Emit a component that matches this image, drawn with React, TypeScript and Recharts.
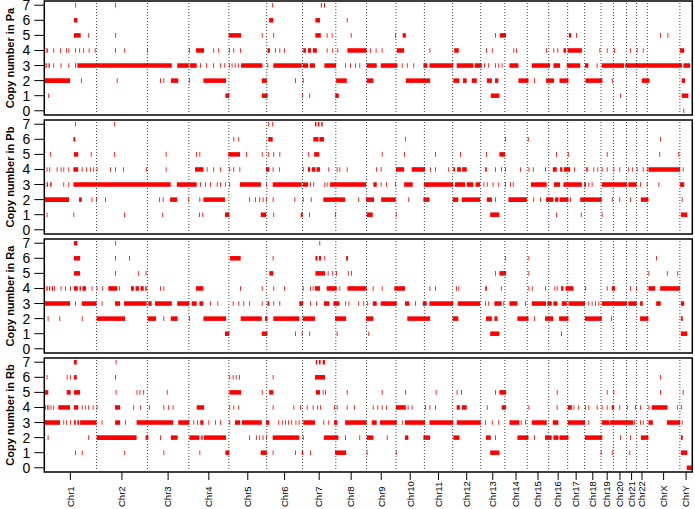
import { ComposedChart, Label, ReferenceArea, ReferenceLine, XAxis, YAxis } from 'recharts';

// copy-number segments per sample: [copy number, start Mb, end Mb?] on a cumulative genome axis
type Seg = [number, number, number?];

const CHROMS = ['Chr1', 'Chr2', 'Chr3', 'Chr4', 'Chr5', 'Chr6', 'Chr7', 'Chr8', 'Chr9', 'Chr10', 'Chr11', 'Chr12',
  'Chr13', 'Chr14', 'Chr15', 'Chr16', 'Chr17', 'Chr18', 'Chr19', 'Chr20', 'Chr21', 'Chr22', 'ChrX', 'ChrY'];
const CHROM_MB = [249.25, 243.2, 198.0, 191.15, 180.9, 171.1, 159.1, 146.4, 141.2, 135.5, 135.0, 133.85,
  115.2, 107.35, 102.5, 90.35, 81.2, 78.1, 59.1, 63.0, 48.1, 51.3, 155.3, 59.4];
const COPY_TICKS = [0, 1, 2, 3, 4, 5, 6, 7];

const PA: Seg[] = [
  [7, 148], [7, 339], [7, 1089], [7, 1321, 1326], [7, 1336, 1341],
  [6, 142, 158], [6, 1074, 1094], [6, 1295, 1317], [6, 1445],
  [5, 142, 174], [5, 210], [5, 339], [5, 881, 940], [5, 1039], [5, 1094], [5, 1295, 1321], [5, 1349], [5, 1373],
  [5, 1464], [5, 1676], [5, 1712, 1727], [5, 2153], [5, 2177, 2206], [5, 2506, 2517], [5, 2540], [5, 2942], [5, 2977],
  [4, 7], [4, 14], [4, 43], [4, 75], [4, 104], [4, 115], [4, 147], [4, 167], [4, 186], [4, 212], [4, 241], [4, 338],
  [4, 382], [4, 491], [4, 691], [4, 725, 763], [4, 807], [4, 831], [4, 882], [4, 903], [4, 935], [4, 1066, 1078],
  [4, 1102], [4, 1123], [4, 1145], [4, 1237, 1250], [4, 1260, 1274], [4, 1283, 1302], [4, 1349], [4, 1376], [4, 1400],
  [4, 1448, 1540], [4, 1556], [4, 1583], [4, 1612], [4, 1684, 1719], [4, 1840], [4, 1958, 1980], [4, 2110], [4, 2138],
  [4, 2241], [4, 2254], [4, 2397], [4, 2432], [4, 2451], [4, 2480, 2492], [4, 2500, 2568], [4, 2652], [4, 2687],
  [4, 2722], [4, 2798], [4, 2830], [4, 2859], [4, 3037, 3057],
  [3, 0, 6], [3, 10, 14], [3, 20, 26], [3, 43], [3, 78], [3, 115], [3, 147], [3, 158, 609], [3, 635, 690], [3, 695, 728],
  [3, 744], [3, 773], [3, 806], [3, 840], [3, 860], [3, 882], [3, 895], [3, 910], [3, 925], [3, 940, 1042], [3, 1066],
  [3, 1094, 1230], [3, 1235, 1260], [3, 1268, 1293], [3, 1338, 1394], [3, 1437], [3, 1461], [3, 1485], [3, 1505],
  [3, 1540, 1588], [3, 1607, 1687], [3, 1708], [3, 1732], [3, 1763], [3, 1811, 1830], [3, 1840, 1954], [3, 1970, 2050],
  [3, 2056, 2090], [3, 2101], [3, 2121], [3, 2153], [3, 2169], [3, 2185], [3, 2222, 2265], [3, 2329, 2416],
  [3, 2432, 2464], [3, 2496, 2560], [3, 2583, 2599], [3, 2639], [3, 2663, 2770], [3, 2775, 3046], [3, 3053, 3085],
  [2, 0, 123], [2, 175], [2, 346], [2, 553], [2, 569], [2, 605, 640], [2, 691], [2, 760, 868], [2, 1039, 1063],
  [2, 1198], [2, 1235], [2, 1394, 1445], [2, 1540, 1572], [2, 1727, 1843], [2, 1954, 1983], [2, 2000, 2018],
  [2, 2042, 2066], [2, 2114, 2138], [2, 2153, 2169], [2, 2265, 2313], [2, 2340], [2, 2397, 2435], [2, 2461, 2504],
  [2, 2585, 2666], [2, 2711], [2, 2854, 2891], [2, 3045, 3061],
  [1, 19], [1, 865, 884], [1, 1039, 1067], [1, 1231], [1, 1266], [1, 1390, 1407], [1, 2133, 2174], [1, 2751],
  [1, 3045, 3077],
  [0, 3053],
];

const PB: Seg[] = [
  [7, 147], [7, 333], [7, 1070], [7, 1089], [7, 1293, 1300], [7, 1307, 1314], [7, 1323, 1330],
  [6, 139, 148], [6, 903], [6, 927], [6, 1070, 1091], [6, 1285, 1310], [6, 1314, 1336], [6, 1723], [6, 2201],
  [6, 2310], [6, 2942],
  [5, 27], [5, 142, 162], [5, 222], [5, 333], [5, 580], [5, 725], [5, 741], [5, 879, 935], [5, 964], [5, 1039],
  [5, 1070], [5, 1094], [5, 1123], [5, 1261], [5, 1289, 1314], [5, 1612], [5, 1719], [5, 1867], [5, 1986], [5, 2110],
  [5, 2174, 2201], [5, 2445], [5, 2501], [5, 2687], [5, 2938], [5, 3029],
  [4, 11], [4, 24], [4, 59], [4, 78], [4, 91], [4, 115], [4, 139, 162], [4, 179], [4, 199], [4, 218], [4, 234],
  [4, 250], [4, 314], [4, 338], [4, 377], [4, 486], [4, 580], [4, 720, 760], [4, 776], [4, 807], [4, 840], [4, 884],
  [4, 903], [4, 932], [4, 1059, 1075], [4, 1091], [4, 1121], [4, 1235], [4, 1259, 1270], [4, 1278, 1295],
  [4, 1300, 1317], [4, 1357], [4, 1397], [4, 1410], [4, 1445], [4, 1585], [4, 1607], [4, 1680, 1719], [4, 1755, 1819],
  [4, 1843], [4, 1867], [4, 1930], [4, 1954, 1962], [4, 1972, 1990], [4, 1996, 2018], [4, 2106, 2114], [4, 2153],
  [4, 2182], [4, 2201], [4, 2273], [4, 2313], [4, 2334], [4, 2392], [4, 2429, 2448], [4, 2464, 2475], [4, 2482, 2512],
  [4, 2531], [4, 2588], [4, 2594], [4, 2623], [4, 2642], [4, 2663], [4, 2687], [4, 2719], [4, 2747], [4, 2790],
  [4, 2807], [4, 2830], [4, 2859], [4, 2878], [4, 2886, 3037], [4, 3050],
  [3, 0, 5], [3, 12, 18], [3, 28, 35], [3, 91], [3, 115], [3, 139, 604], [3, 633, 728], [3, 744], [3, 768], [3, 792],
  [3, 824], [3, 840], [3, 863], [3, 884], [3, 935, 1035], [3, 1059], [3, 1091, 1230], [3, 1235, 1260], [3, 1270],
  [3, 1285], [3, 1338], [3, 1349], [3, 1365, 1537], [3, 1572, 1588], [3, 1607], [3, 1633], [3, 1676], [3, 1719, 1760],
  [3, 1814, 1954], [3, 1962, 2010], [3, 2018, 2050], [3, 2060, 2082], [3, 2098], [3, 2114], [3, 2142], [3, 2169],
  [3, 2201], [3, 2225], [3, 2238], [3, 2325, 2400], [3, 2435, 2464], [3, 2480, 2568], [3, 2579, 2588], [3, 2599],
  [3, 2615], [3, 2663, 2783], [3, 2790, 2830], [3, 2846], [3, 2878], [3, 2934], [3, 3037, 3057],
  [2, 0, 118], [2, 166, 179], [2, 226], [2, 247], [2, 290], [2, 549], [2, 566], [2, 601, 635], [2, 688], [2, 741],
  [2, 760, 863], [2, 979], [2, 1007], [2, 1027], [2, 1043], [2, 1059], [2, 1091], [2, 1195], [2, 1235], [2, 1273],
  [2, 1333, 1437], [2, 1500], [2, 1537, 1575], [2, 1609, 1679], [2, 1739], [2, 1811, 1840], [2, 1951, 1978],
  [2, 1994, 2082], [2, 2114, 2138], [2, 2153], [2, 2217, 2305], [2, 2336], [2, 2368], [2, 2397, 2432], [2, 2440, 2456],
  [2, 2461, 2504], [2, 2512], [2, 2560, 2663], [2, 2711], [2, 2747], [2, 2798], [2, 2850, 2886], [2, 3045],
  [1, 11], [1, 139], [1, 381], [1, 564], [1, 739], [1, 755], [1, 863, 884], [1, 1034, 1059], [1, 1094], [1, 1225, 1235],
  [1, 1265], [1, 1389], [1, 1540, 1569], [1, 1679], [1, 2130, 2174], [1, 2445], [1, 2563], [1, 2663], [1, 3041, 3072],
];

const RA: Seg[] = [
  [7, 142, 158], [7, 339], [7, 1314],
  [6, 142, 171], [6, 338], [6, 405], [6, 887, 938], [6, 1091], [6, 1295, 1305], [6, 1312, 1322], [6, 1338],
  [6, 1442, 1451], [6, 2201], [6, 2313], [6, 2923],
  [5, 0, 3], [5, 142, 171], [5, 338], [5, 449], [5, 484], [5, 1075, 1094], [5, 1295, 1341], [5, 1354], [5, 1376],
  [5, 1394], [5, 1450], [5, 1465], [5, 2153], [5, 2174, 2206], [5, 2313], [5, 2886], [5, 2974], [5, 3024],
  [4, 0, 4], [4, 10, 16], [4, 22, 28], [4, 36, 42], [4, 47, 51], [4, 78], [4, 99], [4, 123], [4, 142, 160],
  [4, 168, 175], [4, 182, 199], [4, 226], [4, 250], [4, 277], [4, 306, 349], [4, 358], [4, 414, 428], [4, 436, 452],
  [4, 460, 475], [4, 482, 489], [4, 553], [4, 569], [4, 725, 760], [4, 935], [4, 1039], [4, 1094], [4, 1145],
  [4, 1235], [4, 1270], [4, 1282], [4, 1293, 1317], [4, 1349, 1397], [4, 1410], [4, 1448, 1540], [4, 1569], [4, 1612],
  [4, 1672, 1723], [4, 1840], [4, 1867], [4, 1967], [4, 1978], [4, 2106, 2114], [4, 2181], [4, 2313], [4, 2329],
  [4, 2392], [4, 2437], [4, 2448], [4, 2469, 2480], [4, 2490, 2528], [4, 2583], [4, 2687], [4, 2711, 2727], [4, 2798],
  [4, 2827], [4, 2886, 2918], [4, 2942, 3037],
  [3, 0, 123], [3, 147], [3, 179, 250], [3, 274], [3, 338, 362], [3, 381, 489], [3, 497, 513], [3, 529, 609],
  [3, 635, 693], [3, 704, 728], [3, 741, 760], [3, 792], [3, 827], [3, 900], [3, 927], [3, 951], [3, 979], [3, 1039],
  [3, 1066, 1075], [3, 1094], [3, 1123], [3, 1218, 1237], [3, 1270], [3, 1298], [3, 1336, 1362], [3, 1381, 1410],
  [3, 1437], [3, 1453], [3, 1500], [3, 1524], [3, 1543], [3, 1569, 1588], [3, 1607, 1684], [3, 1723, 1744], [3, 1771],
  [3, 1808, 1827], [3, 1840, 1954], [3, 1975, 2082], [3, 2106], [3, 2121], [3, 2150, 2185], [3, 2193], [3, 2222, 2260],
  [3, 2297], [3, 2329, 2397], [3, 2403, 2424], [3, 2432, 2451], [3, 2472, 2496], [3, 2504, 2583], [3, 2599], [3, 2615],
  [3, 2631], [3, 2647], [3, 2663, 2783], [3, 2790, 2830], [3, 2846, 2859], [3, 2923, 2945], [3, 3041, 3057],
  [2, 16], [2, 72], [2, 179], [2, 250, 386], [2, 494, 534], [2, 569], [2, 604, 637], [2, 691], [2, 760, 868],
  [2, 938, 1039], [2, 1054, 1066], [2, 1094, 1218], [2, 1235, 1293], [2, 1389, 1442], [2, 1537, 1572], [2, 1734, 1843],
  [2, 1951, 1978], [2, 2110, 2138], [2, 2150, 2165], [2, 2260, 2313], [2, 2340], [2, 2392, 2432], [2, 2459, 2504],
  [2, 2583, 2663], [2, 2708], [2, 2846, 2886], [2, 3041, 3050],
  [1, 863, 884], [1, 1039, 1066], [1, 1198], [1, 1230], [1, 1266], [1, 1397], [1, 1548], [1, 2130, 2174], [1, 2469],
  [1, 3041, 3072],
];

const RB: Seg[] = [
  [7, 142, 155], [7, 341], [7, 1297, 1304], [7, 1312, 1320], [7, 1330, 1341],
  [6, 11], [6, 107], [6, 123], [6, 142, 155], [6, 338], [6, 884], [6, 900], [6, 915], [6, 930], [6, 1091],
  [6, 1293, 1341], [6, 2942],
  [5, 3, 19], [5, 107, 126], [5, 142, 171], [5, 341], [5, 441], [5, 455], [5, 473], [5, 585], [5, 884, 940], [5, 1039],
  [5, 1074, 1094], [5, 1298, 1317], [5, 1330], [5, 1341], [5, 1445], [5, 1612], [5, 1723], [5, 1870], [5, 1970],
  [5, 1991], [5, 2153], [5, 2174, 2206], [5, 2448], [5, 2687], [5, 2719], [5, 2942], [5, 3050],
  [4, 3], [4, 13], [4, 20], [4, 30], [4, 43], [4, 67, 123], [4, 142, 162], [4, 179], [4, 194], [4, 210], [4, 231],
  [4, 250], [4, 338, 362], [4, 425], [4, 457], [4, 500], [4, 569], [4, 592], [4, 613], [4, 728, 763], [4, 884],
  [4, 903], [4, 927], [4, 1091], [4, 1190], [4, 1222], [4, 1254], [4, 1282], [4, 1304], [4, 1317], [4, 1384],
  [4, 1397], [4, 1445], [4, 1480], [4, 1569], [4, 1591], [4, 1612], [4, 1633], [4, 1680, 1727], [4, 1736], [4, 1755],
  [4, 1819], [4, 1840], [4, 1867], [4, 1970, 1985], [4, 1995, 2018], [4, 2114], [4, 2185, 2206], [4, 2313], [4, 2448],
  [4, 2501, 2520], [4, 2528], [4, 2551], [4, 2583], [4, 2599], [4, 2639], [4, 2663], [4, 2687], [4, 2711, 2722],
  [4, 2747], [4, 2783], [4, 2822], [4, 2846], [4, 2886], [4, 2902, 2977], [4, 3022], [4, 3041],
  [3, 0, 75], [3, 91], [3, 105], [3, 123], [3, 142, 150], [3, 158, 166], [3, 171, 250], [3, 274], [3, 338, 362],
  [3, 386], [3, 441, 616], [3, 640, 693], [3, 712], [3, 730], [3, 745, 760], [3, 784], [3, 816], [3, 840], [3, 884],
  [3, 911, 935], [3, 943, 1039], [3, 1059, 1075], [3, 1118], [3, 1135], [3, 1150], [3, 1165], [3, 1180], [3, 1200],
  [3, 1215], [3, 1237, 1293], [3, 1333], [3, 1357], [3, 1384, 1400], [3, 1437, 1540], [3, 1564, 1588], [3, 1604, 1684],
  [3, 1708], [3, 1723, 1819], [3, 1840, 1954], [3, 1970, 2085], [3, 2106], [3, 2138], [3, 2169], [3, 2222, 2270],
  [3, 2276], [3, 2297], [3, 2329, 2400], [3, 2429, 2456], [3, 2501, 2583], [3, 2599], [3, 2663, 2700], [3, 2703, 2814],
  [3, 2818], [3, 2846], [3, 2859], [3, 2886, 2907], [3, 2974, 3037], [3, 3045],
  [2, 16], [2, 210], [2, 250, 441], [2, 484, 497], [2, 553], [2, 605, 637], [2, 693, 741], [2, 748], [2, 755],
  [2, 763, 868], [2, 979], [2, 1011], [2, 1027], [2, 1043], [2, 1059], [2, 1091, 1218], [2, 1235], [2, 1336, 1405],
  [2, 1437], [2, 1505], [2, 1540, 1572], [2, 1636], [2, 1723, 1739], [2, 1811, 1843], [2, 1954, 1983], [2, 2110, 2133],
  [2, 2153], [2, 2260, 2313], [2, 2340], [2, 2392, 2424], [2, 2432, 2456], [2, 2461, 2504], [2, 2583, 2666], [2, 2751],
  [2, 2798], [2, 2850, 2886], [2, 3041, 3050],
  [1, 147], [1, 179], [1, 382], [1, 569], [1, 741], [1, 865, 884], [1, 1034, 1063], [1, 1091], [1, 1198],
  [1, 1230, 1237], [1, 1270], [1, 1389, 1442], [1, 1540], [1, 1679], [1, 2130, 2174], [1, 2658], [1, 2711], [1, 2795],
  [1, 3041, 3072],
  [0, 3069, 3095],
];

const SAMPLES = ['Pa', 'Pb', 'Ra', 'Rb'];
const SAMPLE_SEGS = [PA, PB, RA, RB];

const starts: number[] = [];
let acc = 0;
for (const len of CHROM_MB) {
  starts.push(acc);
  acc += len;
}
const TOTAL = acc;
const mids = CHROM_MB.map((len, i) => starts[i] + len / 2);
const bounds = starts.slice(1);
const axisData = mids.map((mid) => ({ mid }));

const FONT = '"Liberation Sans", Arial, Helvetica, sans-serif';
const Y_DOMAIN: [number, number] = [-0.28, 7.28];
const HALF = 0.15;
const MIN_MB = 4;
const PAD = 8;

// chromosome names read upwards from a common baseline near the bottom edge
function ChromTick(props: any) {
  const { x, y, payload } = props;
  const i = mids.findIndex((m) => Math.abs(m - payload.value) < 0.01);
  const by = y + 21;
  return (
    <text x={x} y={by} transform={`rotate(-90 ${x} ${by})`} textAnchor="start" dy="0.35em"
      fontSize={9.5} fontFamily={FONT} fill="#000">
      {CHROMS[i]}
    </text>
  );
}

function Panel({ sample, segs, top, last }: { sample: string; segs: Seg[]; top: number; last: boolean }) {
  const height = last ? PAD + 114 + 38 : PAD + 114 + PAD;
  return (
    <div style={{ position: 'absolute', left: 0, top: top - PAD, width: 695, height }}>
      <ComposedChart width={695} height={height} data={axisData}
        margin={{ top: PAD, right: 2.7, bottom: last ? 0 : PAD, left: 0 }}>
        <XAxis type="number" dataKey="mid" domain={[0, TOTAL]} allowDataOverflow hide={!last}
          ticks={mids} interval={0} height={38} tickSize={8} tickMargin={6} axisLine={false}
          tickLine={{ stroke: '#000' }} tick={<ChromTick />} />
        <YAxis type="number" domain={Y_DOMAIN} allowDataOverflow ticks={COPY_TICKS} interval={0} width={44.3}
          tickSize={10} tickMargin={4} axisLine={false} tickLine={{ stroke: '#000' }}
          tick={{ fontSize: 14, fill: '#000', fontFamily: FONT }}>
          <Label content={(p: any) => {
            const vb = p.viewBox || { y: PAD, height: 114 };
            const cy = vb.y + vb.height / 2;
            return (
              <text x={10} y={cy} transform={`rotate(-90 10 ${cy})`} textAnchor="middle" dominantBaseline="central"
                fontSize={11} fontWeight="bold" fontFamily={FONT} fill="#000">
                {`Copy number in ${sample}`}
              </text>
            );
          }} />
        </YAxis>
        {bounds.map((b) => (
          <ReferenceLine key={`b${b}`} x={b} stroke="#444" strokeWidth={1} strokeDasharray="1 2" />
        ))}
        {segs.map(([cn, s, e], i) => (
          <ReferenceArea key={i} x1={s} x2={Math.max(e ?? s, s + MIN_MB)} y1={cn - HALF} y2={cn + HALF}
            fill="#ff0000" fillOpacity={1} stroke="none" />
        ))}
        <ReferenceArea x1={0} x2={TOTAL} y1={Y_DOMAIN[0]} y2={Y_DOMAIN[1]} fill="none" fillOpacity={0}
          stroke="#000" strokeWidth={1.5} />
      </ComposedChart>
    </div>
  );
}

export default function App() {
  return (
    <div style={{ position: 'absolute', left: 0, top: 0, width: 695, height: 509, background: '#fff', overflow: 'hidden' }}>
      {SAMPLES.map((s, i) => (
        <Panel key={s} sample={s} segs={SAMPLE_SEGS[i]} top={0.8 + 119 * i} last={i === 3} />
      ))}
    </div>
  );
}
